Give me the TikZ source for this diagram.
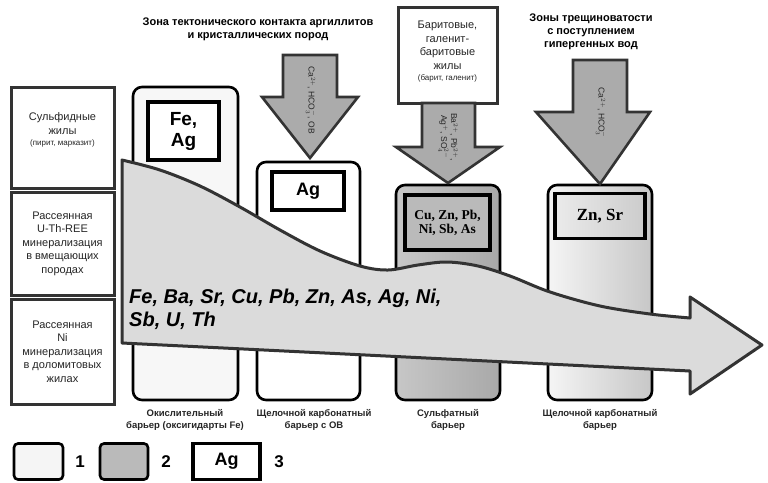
\documentclass[tikz,border=0pt]{standalone}
\usepackage{fontspec}
\setmainfont{Liberation Sans}
\newfontfamily\serifbold{Liberation Serif}
\begin{document}
\begin{tikzpicture}[x=1pt,y=-1pt,
  leftbox/.style={draw=black!80, line width=3pt, fill=white, minimum width=103pt, inner sep=0pt},
  colbox/.style={draw=black, line width=2.6pt, rounded corners=9pt, inner sep=0pt},
  tagbox/.style={draw=black, line width=3.5pt, inner sep=0pt, align=center, font=\bfseries},
  downarrow/.style={draw=black!80, line width=2.6pt, fill=black!33, line join=miter},
  bigarrow/.style={draw=black!80, line width=3pt, fill=black!14, line join=round},
  ttl/.style={font=\bfseries\fontsize{11}{13}\selectfont, align=center},
  lbl/.style={font=\bfseries\fontsize{9.5}{12}\selectfont, align=center, text=black!85},
  lt/.style={font=\fontsize{11}{13.5}\selectfont, align=center, text=black!85},
  ion/.style={font=\fontsize{8.5}{10}\selectfont, align=center, rotate=-90, text=black!85}
]
\useasboundingbox (0,0) rectangle (768,482);
\fill[white] (0,0) rectangle (768,482);

% left boxes
\node[leftbox, minimum height=101pt] (L1) at (62.5,137.5) {};
\node[leftbox, minimum height=103pt] (L2) at (62.5,243.5) {};
\node[leftbox, minimum height=105pt] (L3) at (62.5,351.5) {};
\node[lt] (L1t) at (62.5,130) {Сульфидные\\жилы\\[-2pt]{\fontsize{8}{10}\selectfont(пирит, марказит)}};
\node[lt] (L2t) at (62.5,243.5) {Рассеянная\\U-Th-REE\\минерализация\\в вмещающих\\породах};
\node[lt] (L3t) at (62.5,351.5) {Рассеянная\\Ni\\минерализация\\в доломитовых\\жилах};

% columns
\node[colbox, fill=black!3, minimum width=105pt, minimum height=313pt] (C1) at (185.5,243.5) {};
\node[colbox, fill=white, minimum width=103pt, minimum height=238pt] (C2) at (308.5,281) {};
\node[colbox, left color=black!22, right color=black!34, minimum width=104pt, minimum height=215pt] (C3) at (448,292.5) {};
\node[colbox, left color=black!4, right color=black!22, minimum width=104pt, minimum height=215pt] (C4) at (600,292.5) {};

% tags in columns
\node[tagbox, fill=white, minimum width=71pt, minimum height=58pt, font=\bfseries\fontsize{19}{21}\selectfont] (T1) at (183.5,131) {Fe,\\Ag};
\node[tagbox, fill=white, minimum width=72pt, minimum height=38pt, font=\bfseries\fontsize{18}{20}\selectfont] (T2) at (308,191) {Ag};
\node[tagbox, fill=black!27, minimum width=85pt, minimum height=55pt, font=\serifbold\bfseries\fontsize{13.5}{14}\selectfont] (T3) at (447.5,222.5) {Cu, Zn, Pb,\\Ni, Sb, As};
\node[tagbox, left color=black!8, right color=black!20, minimum width=90pt, minimum height=45pt, font=\serifbold\bfseries\fontsize{17}{19}\selectfont] (T4) at (600,216) {Zn, Sr};

% big horizontal arrow
\draw[bigarrow] (122,343) -- (122,160)
  -- plot[smooth, tension=0.55] coordinates {(122,160) (160,170) (200,186) (240,207) (280,230) (320,251) (360,266) (388,270) (418,265) (447,262) (478,266) (510,276) (550,292) (600,306) (650,314) (690,318)}
  -- (690,297) -- (762,345) -- (690,394) -- (690,371) -- cycle;
\node[font=\bfseries\itshape\fontsize{20}{23}\selectfont, align=left, anchor=north west, inner sep=0pt] (elems) at (129,289) {Fe, Ba, Sr, Cu, Pb, Zn, As, Ag, Ni,\\Sb, U, Th};

% titles
\node[ttl] (top1) at (258,29) {Зона тектонического контакта аргиллитов\\и кристаллических пород};
\node[ttl] (top2) at (591,32) {Зоны трещиноватости\\с поступлением\\гипергенных вод};

% baryte box
\node[draw=black!80, line width=3pt, fill=white, minimum width=99pt, minimum height=96pt, inner sep=0pt] (B) at (447.5,55) {};
\node[lt] (Bt) at (447.5,52) {Баритовые,\\галенит-\\баритовые\\жилы\\[-2pt]{\fontsize{8}{10}\selectfont(барит, галенит)}};

% down arrows
\coordinate (A1tip) at (310,158);
\draw[downarrow] (283,55) -- (337,55) -- (337,97) -- (358,97) -- (A1tip) -- (262,97) -- (283,97) -- cycle;
\node[ion] (A1t) at (311,100) {Ca$^{2+}$, HCO$_3^-$, ОВ};

\coordinate (A2tip) at (448,183);
\draw[downarrow] (422,103) -- (475,103) -- (475,147) -- (500,147) -- (A2tip) -- (396,147) -- (422,147) -- cycle;
\node[ion] (A2t) at (448,137) {Ba$^{2+}$, Pb$^{2+}$,\\Ag$^{+}$, SO$_4^{2-}$};

\coordinate (A3tip) at (600,184);
\draw[downarrow] (573,60) -- (627,60) -- (627,112) -- (650,112) -- (A3tip) -- (536,112) -- (573,112) -- cycle;
\node[ion] (A3t) at (601,113) {Ca$^{2+}$, HCO$_3^-$};

% bottom labels
\node[lbl] (b1) at (185,420) {Окислительный\\барьер (оксигидарты Fe)};
\node[lbl] (b2) at (314,420) {Щелочной карбонатный\\барьер с ОВ};
\node[lbl] (b3) at (448,420) {Сульфатный\\барьер};
\node[lbl] (b4) at (600,420) {Щелочной карбонатный\\барьер};

% legend
\node[draw=black, line width=2.6pt, rounded corners=4pt, fill=black!4, minimum width=49pt, minimum height=36pt] (g1) at (38.5,461.5) {};
\node[font=\bfseries\fontsize{17}{19}\selectfont] (n1) at (80,462) {1};
\node[draw=black, line width=2.6pt, rounded corners=4pt, fill=black!27, minimum width=48pt, minimum height=36pt] (g2) at (124,461.5) {};
\node[font=\bfseries\fontsize{17}{19}\selectfont] (n2) at (166,462) {2};
\node[tagbox, fill=white, minimum width=67pt, minimum height=36pt, font=\bfseries\fontsize{18}{20}\selectfont] (g3) at (226.5,461.5) {Ag};
\node[font=\bfseries\fontsize{17}{19}\selectfont] (n3) at (279,462) {3};
\end{tikzpicture}
\end{document}
